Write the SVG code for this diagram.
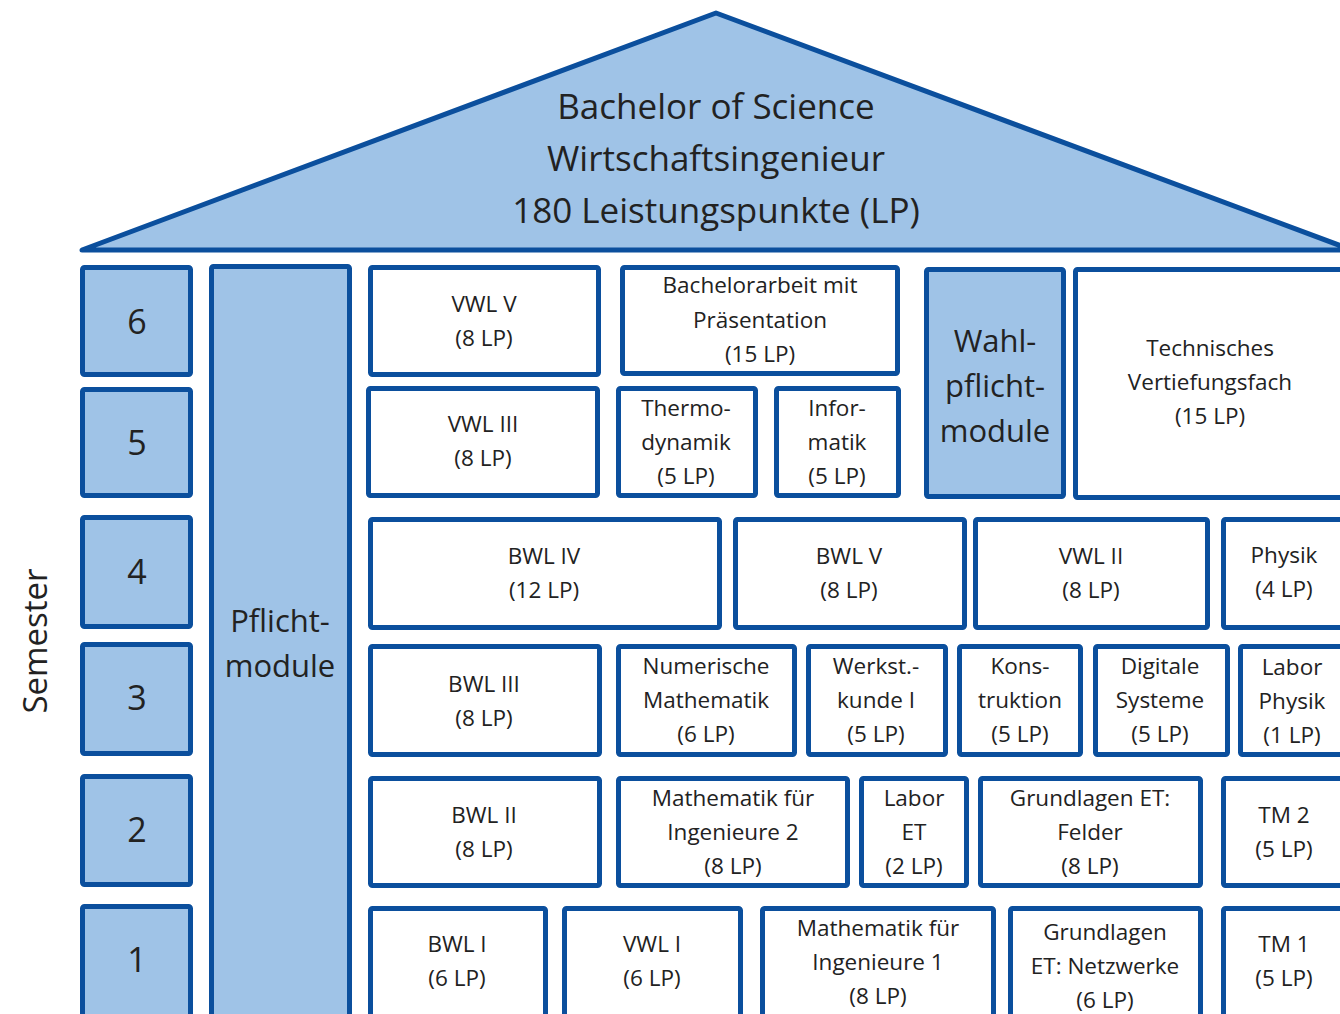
<svg xmlns="http://www.w3.org/2000/svg" width="1340" height="1014" viewBox="0 0 1340 1014">
<style>
.b{fill:#9fc3e7;stroke:#0b4f9d;stroke-width:5;stroke-linejoin:round}
.w{fill:#ffffff;stroke:#0b4f9d;stroke-width:5;stroke-linejoin:round}
text{font-family:"Open Sans","Noto Sans",sans-serif;fill:#222;text-anchor:middle}
.t{font-size:22.5px}
.n{font-size:34px}
.h{font-size:35px}
.c{font-size:31px}
.s{font-size:33px}
</style>
<rect width="1340" height="1014" fill="#fff"/>
<g id="roof">
<polygon class="b" points="82,250 716,13 1352,250"/>
<text class="h" x="716" y="119">Bachelor of Science</text>
<text class="h" x="716" y="171">Wirtschaftsingenieur</text>
<text class="h" x="716" y="223">180 Leistungspunkte (LP)</text>
</g>
<g id="semester-label"><text class="s" transform="translate(47,641) rotate(-90)">Semester</text></g>
<g id="sem6"><rect class="b" x="82.5" y="267.5" width="108" height="107" rx="2"/><text class="n" x="137" y="334">6</text></g>
<g id="sem5"><rect class="b" x="82.5" y="389.5" width="108" height="106" rx="2"/><text class="n" x="137" y="455">5</text></g>
<g id="sem4"><rect class="b" x="82.5" y="517.5" width="108" height="109" rx="2"/><text class="n" x="137" y="584">4</text></g>
<g id="sem3"><rect class="b" x="82.5" y="644.5" width="108" height="109" rx="2"/><text class="n" x="137" y="710">3</text></g>
<g id="sem2"><rect class="b" x="82.5" y="776.5" width="108" height="108" rx="2"/><text class="n" x="137" y="842">2</text></g>
<g id="sem1"><rect class="b" x="82.5" y="906.5" width="108" height="120" rx="2"/><text class="n" x="137" y="972">1</text></g>
<g id="pflicht"><rect class="b" x="211.5" y="266.5" width="138" height="760" rx="2"/><text class="c" x="280" y="632">Pflicht-</text><text class="c" x="280" y="677">module</text></g>
<g id="wahlpflicht"><rect class="b" x="926.5" y="269.5" width="137" height="227" rx="2"/><text class="c" x="995" y="352">Wahl-</text><text class="c" x="995" y="397">pflicht-</text><text class="c" x="995" y="442">module</text></g>

<g id="vwl5"><rect class="w" x="370.5" y="267.5" width="228" height="107" rx="2"/><text class="t" x="484" y="312">VWL V</text><text class="t" x="484" y="346">(8 LP)</text></g>
<g id="bachelorarbeit"><rect class="w" x="622.5" y="267.5" width="275" height="106" rx="2"/><text class="t" x="760" y="293">Bachelorarbeit mit</text><text class="t" x="760" y="328">Präsentation</text><text class="t" x="760" y="362">(15 LP)</text></g>
<g id="vwl3"><rect class="w" x="368.5" y="388.5" width="229" height="107" rx="2"/><text class="t" x="483" y="432">VWL III</text><text class="t" x="483" y="466">(8 LP)</text></g>
<g id="thermo"><rect class="w" x="618.5" y="388.5" width="137" height="107" rx="2"/><text class="t" x="686" y="416">Thermo-</text><text class="t" x="686" y="450">dynamik</text><text class="t" x="686" y="484">(5 LP)</text></g>
<g id="informatik"><rect class="w" x="776.5" y="388.5" width="122" height="107" rx="2"/><text class="t" x="837" y="416">Infor-</text><text class="t" x="837" y="450">matik</text><text class="t" x="837" y="484">(5 LP)</text></g>
<g id="technisches"><rect class="w" x="1075.5" y="269.5" width="280" height="228" rx="2"/><text class="t" x="1210" y="356">Technisches</text><text class="t" x="1210" y="390">Vertiefungsfach</text><text class="t" x="1210" y="424">(15 LP)</text></g>

<g id="bwl4"><rect class="w" x="370.5" y="519.5" width="349" height="108" rx="2"/><text class="t" x="544" y="564">BWL IV</text><text class="t" x="544" y="598">(12 LP)</text></g>
<g id="bwl5"><rect class="w" x="735.5" y="519.5" width="229" height="108" rx="2"/><text class="t" x="849" y="564">BWL V</text><text class="t" x="849" y="598">(8 LP)</text></g>
<g id="vwl2"><rect class="w" x="975.5" y="519.5" width="232" height="108" rx="2"/><text class="t" x="1091" y="564">VWL II</text><text class="t" x="1091" y="598">(8 LP)</text></g>
<g id="physik"><rect class="w" x="1223.5" y="519.5" width="130" height="108" rx="2"/><text class="t" x="1284" y="563">Physik</text><text class="t" x="1284" y="597">(4 LP)</text></g>

<g id="bwl3"><rect class="w" x="370.5" y="646.5" width="229" height="108" rx="2"/><text class="t" x="484" y="692">BWL III</text><text class="t" x="484" y="726">(8 LP)</text></g>
<g id="numerische"><rect class="w" x="618.5" y="646.5" width="176" height="108" rx="2"/><text class="t" x="706" y="674">Numerische</text><text class="t" x="706" y="708">Mathematik</text><text class="t" x="706" y="742">(6 LP)</text></g>
<g id="werkstoffkunde"><rect class="w" x="808.5" y="646.5" width="137" height="108" rx="2"/><text class="t" x="876" y="674">Werkst.-</text><text class="t" x="876" y="708">kunde I</text><text class="t" x="876" y="742">(5 LP)</text></g>
<g id="konstruktion"><rect class="w" x="959.5" y="646.5" width="121" height="108" rx="2"/><text class="t" x="1020" y="674">Kons-</text><text class="t" x="1020" y="708">truktion</text><text class="t" x="1020" y="742">(5 LP)</text></g>
<g id="digitale"><rect class="w" x="1095.5" y="646.5" width="132" height="108" rx="2"/><text class="t" x="1160" y="674">Digitale</text><text class="t" x="1160" y="708">Systeme</text><text class="t" x="1160" y="742">(5 LP)</text></g>
<g id="laborphysik"><rect class="w" x="1240.5" y="646.5" width="115" height="108" rx="2"/><text class="t" x="1292" y="675">Labor</text><text class="t" x="1292" y="709">Physik</text><text class="t" x="1292" y="743">(1 LP)</text></g>

<g id="bwl2"><rect class="w" x="370.5" y="778.5" width="229" height="107" rx="2"/><text class="t" x="484" y="823">BWL II</text><text class="t" x="484" y="857">(8 LP)</text></g>
<g id="mathe2"><rect class="w" x="618.5" y="778.5" width="229" height="107" rx="2"/><text class="t" x="733" y="806">Mathematik für</text><text class="t" x="733" y="840">Ingenieure 2</text><text class="t" x="733" y="874">(8 LP)</text></g>
<g id="laboret"><rect class="w" x="861.5" y="778.5" width="105" height="107" rx="2"/><text class="t" x="914" y="806">Labor</text><text class="t" x="914" y="840">ET</text><text class="t" x="914" y="874">(2 LP)</text></g>
<g id="felder"><rect class="w" x="980.5" y="778.5" width="220" height="107" rx="2"/><text class="t" x="1090" y="806">Grundlagen ET:</text><text class="t" x="1090" y="840">Felder</text><text class="t" x="1090" y="874">(8 LP)</text></g>
<g id="tm2"><rect class="w" x="1223.5" y="778.5" width="130" height="107" rx="2"/><text class="t" x="1284" y="823">TM 2</text><text class="t" x="1284" y="857">(5 LP)</text></g>

<g id="bwl1"><rect class="w" x="370.5" y="908.5" width="175" height="120" rx="2"/><text class="t" x="457" y="952">BWL I</text><text class="t" x="457" y="986">(6 LP)</text></g>
<g id="vwl1"><rect class="w" x="564.5" y="908.5" width="176" height="120" rx="2"/><text class="t" x="652" y="952">VWL I</text><text class="t" x="652" y="986">(6 LP)</text></g>
<g id="mathe1"><rect class="w" x="762.5" y="908.5" width="231" height="120" rx="2"/><text class="t" x="878" y="936">Mathematik für</text><text class="t" x="878" y="970">Ingenieure 1</text><text class="t" x="878" y="1004">(8 LP)</text></g>
<g id="netzwerke"><rect class="w" x="1010.5" y="908.5" width="190" height="120" rx="2"/><text class="t" x="1105" y="940">Grundlagen</text><text class="t" x="1105" y="974">ET: Netzwerke</text><text class="t" x="1105" y="1008">(6 LP)</text></g>
<g id="tm1"><rect class="w" x="1223.5" y="908.5" width="130" height="120" rx="2"/><text class="t" x="1284" y="952">TM 1</text><text class="t" x="1284" y="986">(5 LP)</text></g>
<g id="connectors"/>
</svg>
